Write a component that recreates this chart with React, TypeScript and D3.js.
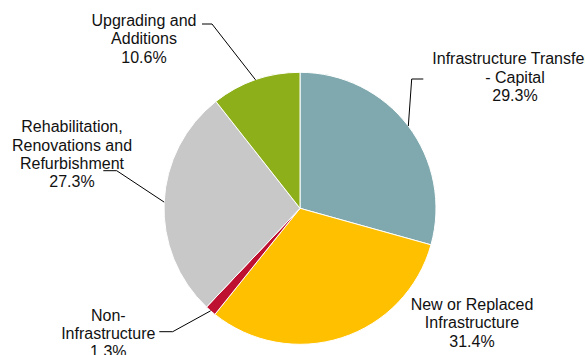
import React from "react";
import * as d3 from "d3";

const categories = [
  "Infrastructure Transfer - Capital",
  "New or Replaced Infrastructure",
  "Non-Infrastructure",
  "Rehabilitation, Renovations and Refurbishment",
  "Upgrading and Additions",
];
const values = [29.3, 31.4, 1.3, 27.3, 10.6];
const labelLines = [
  ["Infrastructure Transfer", "- Capital", "29.3%"],
  ["New or Replaced", "Infrastructure", "31.4%"],
  ["Non-", "Infrastructure", "1.3%"],
  ["Rehabilitation,", "Renovations and", "Refurbishment", "27.3%"],
  ["Upgrading and", "Additions", "10.6%"],
];
const colors = ["#7FA9AE", "#FFC000", "#BE1030", "#C8C8C8", "#8DAF1A"];

// label layout (positions only)
const layout = [
  { cx: 515, firstDx: -4, y0: 64.3, leader: [[411.7, 79], [423.3, 79]] },
  { cx: 472, firstDx: 0, y0: 310, leader: null },
  { cx: 108.3, firstDx: 0, y0: 320.7, leader: [[172.7, 331.7], [159.3, 331.7]] },
  { cx: 72, firstDx: 0, y0: 132.3, leader: [[116.7, 170.7], [103.3, 170.7]] },
  { cx: 144, firstDx: 0, y0: 26, leader: [[212, 24], [202, 24]] },
];

const W = 585;
const H = 355;
const CX = 300;
const CY = 208.3;
const R = 136;
const LINE_H = 18.3;

export default function App() {
  const data = categories.map((c, i) => ({ name: c, value: values[i], i }));
  const pie = d3.pie<any>().sort(null).value((d) => d.value);
  const arcs = pie(data);
  const arc = d3.arc<any>().innerRadius(0).outerRadius(R);

  return (
    <svg
      width={W}
      height={H}
      style={{ position: "absolute", left: 0, top: 0, background: "#fff" }}
      fontFamily="'Liberation Sans', Arial, sans-serif"
      fontSize={16}
    >
      <g transform={`translate(${CX},${CY})`}>
        {arcs.map((a, i) => (
          <path key={i} d={arc(a) || ""} fill={colors[i]} stroke="#fff" strokeWidth={1} />
        ))}
      </g>
      {arcs.map((a, i) => {
        const L = layout[i];
        if (!L.leader) return null;
        const mid = (a.startAngle + a.endAngle) / 2;
        const ex = CX + R * Math.sin(mid);
        const ey = CY - R * Math.cos(mid);
        const pts = [[ex, ey], ...L.leader];
        const line = d3.line()(pts as any) || "";
        return <path key={"l" + i} d={line} fill="none" stroke="#000" strokeWidth={1} />;
      })}
      {labelLines.map((lines, i) => (
        <text key={"t" + i} textAnchor="middle" fill="#111">
          {lines.map((s, j) => (
            <tspan
              key={j}
              x={layout[i].cx + (j === 0 ? layout[i].firstDx : 0)}
              y={layout[i].y0 + j * LINE_H}
            >
              {s}
            </tspan>
          ))}
        </text>
      ))}
    </svg>
  );
}
